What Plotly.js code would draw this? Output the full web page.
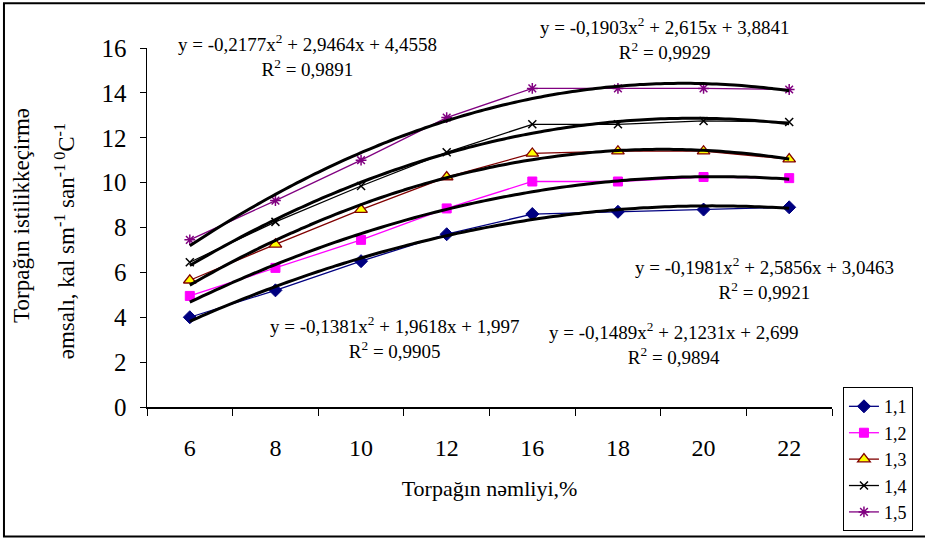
<!DOCTYPE html>
<html>
<head>
<meta charset="utf-8">
<script src="https://cdn.plot.ly/plotly-3.0.1.min.js"></script>
<style>html,body{margin:0;padding:0;background:#fff;}#chart{width:925px;height:542px;}</style>
</head>
<body>
<div id="chart"></div>
<script>
// x categories (soil moisture, %)
const categories = ["6", "8", "10", "12", "16", "18", "20", "22"];
const seriesNames = ["1,1", "1,2", "1,3", "1,4", "1,5"];
// measured values
const s11 = [4.0, 5.2, 6.5, 7.7, 8.6, 8.7, 8.8, 8.9];
const s12 = [4.95, 6.2, 7.45, 8.85, 10.05, 10.05, 10.25, 10.2];
const s13 = [5.65, 7.25, 8.8, 10.25, 11.3, 11.4, 11.4, 11.05];
const s14 = [6.45, 8.25, 9.85, 11.35, 12.6, 12.6, 12.75, 12.7];
const s15 = [7.45, 9.2, 11.0, 12.9, 14.2, 14.2, 14.2, 14.15];
// polynomial trendline coefficients shown on the chart: [a, b, c] for y = a x^2 + b x + c
const trend11 = [-0.1381, 1.9618, 1.997];
const trend12 = [-0.1489, 2.1231, 2.699];
const trend13 = [-0.1981, 2.5856, 3.0463];
const trend14 = [-0.1903, 2.615, 3.8841];
const trend15 = [-0.2177, 2.9464, 4.4558];
const r2 = ["0,9905", "0,9894", "0,9921", "0,9929", "0,9891"];
const eqText = [
  "y = -0,1381x<sup>2</sup> + 1,9618x + 1,997",
  "y = -0,1489x<sup>2</sup> + 2,1231x + 2,699",
  "y = -0,1981x<sup>2</sup> + 2,5856x + 3,0463",
  "y = -0,1903x<sup>2</sup> + 2,615x + 3,8841",
  "y = -0,2177x<sup>2</sup> + 2,9464x + 4,4558"
];

const FONT = "'Liberation Serif', 'Times New Roman', Times, serif";
const idx = categories.map((c, i) => i + 1);
const allSeries = [s11, s12, s13, s14, s15];
const trends = [trend11, trend12, trend13, trend14, trend15];

const styles = [
  {line: "#000080", marker: {symbol: "diamond", size: 10, color: "#000080", line: {color: "#000080", width: 1}}},
  {line: "#FF00FF", marker: {symbol: "square", size: 9, color: "#FF00FF", line: {color: "#FF00FF", width: 1}}},
  {line: "#800000", marker: {symbol: "triangle-up", size: 11, color: "#FFFF00", line: {color: "#800000", width: 1.3}}},
  {line: "#000000", marker: {symbol: "x-thin-open", size: 8, color: "#000000", line: {color: "#000000", width: 1.5}}},
  {line: "#800080", marker: {symbol: "asterisk-open", size: 9, color: "#800080", line: {color: "#800080", width: 1.5}}}
];

const traces = [];
allSeries.forEach((ys, k) => {
  traces.push({
    x: idx, y: ys, type: "scatter", mode: "lines+markers", name: seriesNames[k],
    line: {color: styles[k].line, width: 1.3},
    marker: styles[k].marker
  });
});
// trendline curves from the displayed equations
trends.forEach((t, k) => {
  const xs = [], ys = [];
  for (let i = 0; i <= 70; i++) {
    const x = 1 + i * 0.1;
    xs.push(x);
    ys.push(t[0] * x * x + t[1] * x + t[2]);
  }
  traces.push({x: xs, y: ys, type: "scatter", mode: "lines", showlegend: false,
    hoverinfo: "skip", line: {color: "#000000", width: 3, shape: "spline"}});
});

// annotation placements (paper coords)
const eqPos = [
  {x: 0.362, y: 0.193},
  {x: 0.769, y: 0.178},
  {x: 0.902, y: 0.358},
  {x: 0.756, y: 1.027},
  {x: 0.235, y: 0.98}
];
const annotations = eqText.map((t, k) => ({
  xref: "paper", yref: "paper", x: eqPos[k].x, y: eqPos[k].y,
  xanchor: "center", yanchor: "middle", showarrow: false, align: "center",
  text: t + "<br>R<sup>2</sup> = " + r2[k],
  font: {family: FONT, size: 19, color: "#000"}
}));
annotations.push({
  xref: "paper", yref: "paper", x: -0.1825, y: 0.535, textangle: -90,
  xanchor: "center", yanchor: "middle", showarrow: false,
  text: "Torpağın istilikkeçirmə", font: {family: FONT, size: 23, color: "#000"}
});
annotations.push({
  xref: "paper", yref: "paper", x: -0.119, y: 0.463, textangle: -90,
  xanchor: "center", yanchor: "middle", showarrow: false,
  text: "əmsalı, kal sm<sup>-1</sup> san<sup>-1 0</sup>C<sup>-1</sup>", font: {family: FONT, size: 23, color: "#000"}
});

const layout = {
  width: 925, height: 542,
  margin: {l: 147, r: 93, t: 48, b: 134},
  paper_bgcolor: "#fff", plot_bgcolor: "#fff",
  font: {family: FONT, color: "#000"},
  showlegend: true,
  legend: {
    x: 1.016, y: 0.058, xanchor: "left", yanchor: "top",
    bordercolor: "#000", borderwidth: 1, bgcolor: "#fff",
    font: {family: FONT, size: 18, color: "#000"}
  },
  xaxis: {
    range: [0.5, 8.5], tickmode: "array", tickvals: idx, ticktext: categories,
    ticks: "", showline: true, linecolor: "#000", linewidth: 1.5,
    showgrid: false, zeroline: false, fixedrange: true,
    tickfont: {family: FONT, size: 24, color: "#000"},
    ticklabelstandoff: 19,
    minor: {tickmode: "array", tickvals: [0.5, 1.5, 2.5, 3.5, 4.5, 5.5, 6.5, 7.5, 8.5],
      ticks: "outside", ticklen: 7, tickwidth: 1, tickcolor: "#000", showgrid: false},
    title: {text: "Torpağın nəmliyi,%", font: {family: FONT, size: 22, color: "#000"}, standoff: 20}
  },
  yaxis: {
    range: [0, 16], dtick: 2, ticks: "outside", ticklen: 6, tickwidth: 1, tickcolor: "#000",
    showline: true, linecolor: "#000", linewidth: 1.5, showgrid: false, zeroline: false,
    tickfont: {family: FONT, size: 25, color: "#000"}, ticklabelstandoff: 8
  },
  shapes: [{
    type: "rect", xref: "paper", yref: "paper",
    x0: -0.2088, x1: 1.15, y0: -0.361, y1: 1.125,
    line: {color: "#000", width: 2}, fillcolor: "rgba(0,0,0,0)", layer: "below"
  }],
  annotations: annotations
};

Plotly.newPlot("chart", traces, layout, {displayModeBar: false, staticPlot: true});
</script>
</body>
</html>
